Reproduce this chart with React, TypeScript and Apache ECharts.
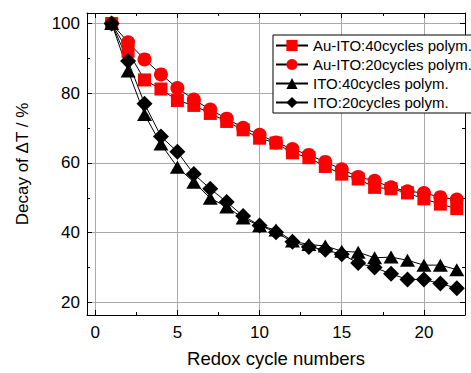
import React, { useEffect, useRef } from "react";
import * as echarts from "echarts";

const cycles = [1, 2, 3, 4, 5, 6, 7, 8, 9, 10, 11, 12, 13, 14, 15, 16, 17, 18, 19, 20, 21, 22];
const au40 = [100, 92.0, 83.8, 81.2, 77.9, 76.5, 74.2, 71.9, 69.5, 67.1, 65.7, 62.9, 61.5, 59.0, 56.8, 55.4, 53.0, 52.6, 51.4, 49.7, 48.2, 46.9];
const au20 = [100, 94.6, 89.7, 85.4, 81.5, 78.2, 75.3, 72.7, 70.1, 68.1, 65.9, 64.0, 62.3, 60.3, 58.2, 56.0, 54.9, 53.0, 51.9, 51.4, 50.2, 49.5];
const ito40 = [100, 86.4, 73.9, 65.4, 58.8, 54.5, 49.9, 47.4, 44.2, 42.0, 40.8, 37.6, 36.6, 36.2, 34.7, 34.4, 32.8, 33.0, 32.1, 30.7, 30.7, 29.4];
const ito20 = [100, 89.2, 77.0, 67.6, 63.2, 56.8, 52.6, 48.8, 44.8, 42.1, 40.1, 37.4, 35.9, 35.1, 33.8, 31.3, 30.0, 28.2, 26.6, 26.6, 25.4, 24.1];

const seriesNames = [
  "Au-ITO:40cycles polym.",
  "Au-ITO:20cycles polym.",
  "ITO:40cycles polym.",
  "ITO:20cycles polym.",
];

const FONT = "'Liberation Sans', Arial, sans-serif";

export default function App() {
  const ref = useRef<HTMLDivElement>(null);
  useEffect(() => {
    if (!ref.current) return;
    const chart = echarts.init(ref.current, null, { renderer: "svg" });
    const pair = (ys: number[]) => cycles.map((x, i) => [x, ys[i]]);
    const mk = (name: string, ys: number[], symbol: string, size: any, color: string) => ({
      name,
      type: "line",
      data: pair(ys),
      symbol,
      symbolSize: size,
      itemStyle: { color, borderWidth: 0 },
      lineStyle: { color: "#000", width: 1 },
      emphasis: { disabled: true },
    });
    const frameLine = { show: true, onZero: false, lineStyle: { color: "#000", width: 1 } };
    chart.setOption({
      animation: false,
      backgroundColor: "#fff",
      grid: { left: 87, right: 6, top: 13, bottom: 53 },
      legend: {
        orient: "vertical",
        left: 273,
        top: 35,
        padding: [3, 2, 3, 2],
        itemGap: 4,
        itemWidth: 32,
        itemHeight: 14,
        backgroundColor: "#fff",
        borderColor: "#000",
        borderWidth: 1,
        borderRadius: 0,
        textStyle: { fontFamily: FONT, fontSize: 15, color: "#000" },
        data: seriesNames,
      },
      xAxis: [
        {
          type: "value",
          min: -0.5,
          max: 22.5,
          axisLine: frameLine,
          axisTick: { inside: true, length: 5, lineStyle: { color: "#000" } },
          minorTick: { show: true, splitNumber: 2, length: 3, lineStyle: { color: "#000" } },
          splitLine: { show: true, lineStyle: { color: "#aaa", width: 1 } },
          axisLabel: { showMinLabel: false, showMaxLabel: false, fontFamily: FONT, fontSize: 17, color: "#000", margin: 9 },
          name: "Redox cycle numbers",
          nameLocation: "middle",
          nameGap: 34,
          nameTextStyle: { fontFamily: FONT, fontSize: 18.5, color: "#000" },
        },
        {
          type: "value",
          position: "top",
          min: -0.5,
          max: 22.5,
          axisLine: frameLine,
          axisTick: { inside: true, length: 5, lineStyle: { color: "#000" } },
          minorTick: { show: true, splitNumber: 2, length: 3, lineStyle: { color: "#000" } },
          splitLine: { show: false },
          axisLabel: { show: false },
        },
      ],
      yAxis: [
        {
          type: "value",
          min: 16.4,
          max: 103,
          axisLine: frameLine,
          axisTick: { inside: true, length: 5, lineStyle: { color: "#000" } },
          minorTick: { show: true, splitNumber: 2, length: 3, lineStyle: { color: "#000" } },
          splitLine: { show: true, lineStyle: { color: "#aaa", width: 1 } },
          axisLabel: { showMinLabel: false, showMaxLabel: false, fontFamily: FONT, fontSize: 17, color: "#000", margin: 7 },
          name: "Decay of ΔT / %",
          nameLocation: "middle",
          nameGap: 56,
          nameTextStyle: { fontFamily: FONT, fontSize: 17, color: "#000" },
        },
        {
          type: "value",
          position: "right",
          min: 16.4,
          max: 103,
          axisLine: frameLine,
          axisTick: { inside: true, length: 5, lineStyle: { color: "#000" } },
          minorTick: { show: true, splitNumber: 2, length: 3, lineStyle: { color: "#000" } },
          splitLine: { show: false },
          axisLabel: { show: false },
        },
      ],
      series: [
        mk(seriesNames[0], au40, "rect", 13, "#ff0000"),
        mk(seriesNames[1], au20, "circle", 14, "#ff0000"),
        mk(seriesNames[2], ito40, "triangle", [15, 13], "#000"),
        mk(seriesNames[3], ito20, "diamond", 16, "#000"),
      ],
    });
    return () => chart.dispose();
  }, []);
  return <div ref={ref} style={{ width: 471, height: 373, position: "absolute", left: 0, top: 0 }} />;
}
